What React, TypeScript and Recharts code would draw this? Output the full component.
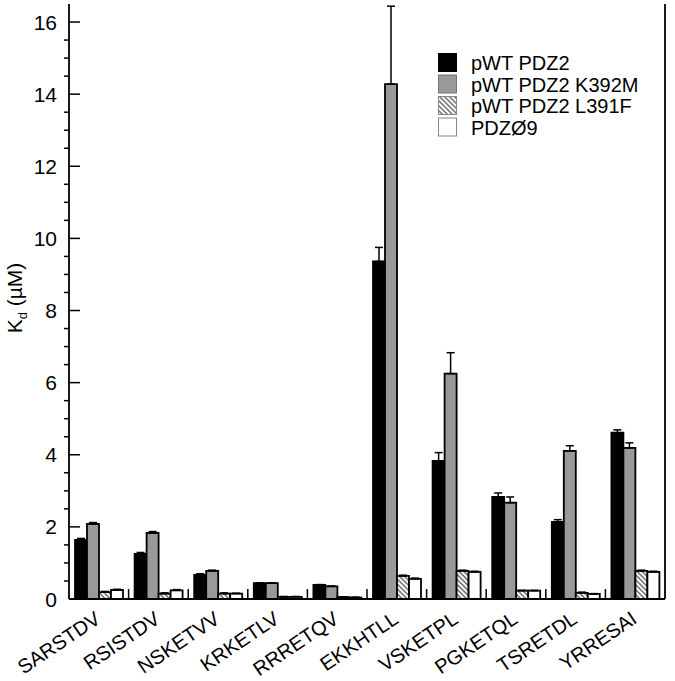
import { BarChart, Bar, XAxis, YAxis, ErrorBar } from "recharts";

const peptides = ["SARSTDV", "RSISTDV", "NSKETVV", "KRKETLV", "RRRETQV", "EKKHTLL", "VSKETPL", "PGKETQL", "TSRETDL", "YRRESAI"];

// Kd (uM) per peptide, upper error only
const wtPdz2 = [1.64, 1.25, 0.67, 0.44, 0.39, 9.36, 3.83, 2.83, 2.14, 4.61];
const wtPdz2Err = [0.04, 0.04, 0.03, 0.01, 0.01, 0.39, 0.23, 0.11, 0.06, 0.08];
const k392m = [2.08, 1.83, 0.78, 0.44, 0.35, 14.28, 6.25, 2.67, 4.11, 4.19];
const k392mErr = [0.04, 0.04, 0.02, 0.01, 0.01, 2.16, 0.58, 0.16, 0.14, 0.14];
const l391f = [0.19, 0.15, 0.15, 0.06, 0.05, 0.64, 0.78, 0.23, 0.17, 0.78];
const l391fErr = [0.02, 0.02, 0.02, 0.01, 0.01, 0.02, 0.02, 0.01, 0.02, 0.02];
const pdz09 = [0.25, 0.24, 0.15, 0.06, 0.04, 0.56, 0.75, 0.23, 0.14, 0.75];
const pdz09Err = [0.02, 0.02, 0.01, 0.01, 0.01, 0.02, 0.02, 0.01, 0.01, 0.02];

const seriesNames = ["pWT PDZ2", "pWT PDZ2 K392M", "pWT PDZ2 L391F", "PDZØ9"];
const seriesFills = ["#000", "#999", "url(#hatch)", "#fff"];
const legendBorders = ["#000", "#777", "#888", "#888"];

const majorTicks = [0, 2, 4, 6, 8, 10, 12, 14, 16];
const yTicks = majorTicks.flatMap((t) => (t < 16 ? [t, t + 0.5, t + 1, t + 1.5] : [t]));

const data = peptides.map((p, i) => ({
  peptide: p,
  wt: wtPdz2[i],
  wtErr: [0, wtPdz2Err[i]],
  km: k392m[i],
  kmErr: [0, k392mErr[i]],
  lf: l391f[i],
  lfErr: [0, l391fErr[i]],
  pz: pdz09[i],
  pzErr: [0, pdz09Err[i]],
}));

const W = 675;
const H = 681;
const LEFT = 69;
const RIGHT = 10;
const band = (W - LEFT - RIGHT) / peptides.length;
const font = "'Liberation Sans', Arial, sans-serif";

function LeftTick({ x, y, payload }: any) {
  const v = payload.value;
  if (v % 2 !== 0) return <line x1={x - 5} x2={x} y1={y} y2={y} stroke="#000" strokeWidth={1.5} />;
  return (
    <g>
      <line x1={x} x2={x + 11} y1={y} y2={y} stroke="#000" strokeWidth={1.5} />
      <text x={x - 12} y={y} dy="0.36em" textAnchor="end" fontSize={21} fontFamily={font} fill="#000">
        {v}
      </text>
    </g>
  );
}

function RightTick({ x, y, payload }: any) {
  const v = payload.value;
  if (v % 2 !== 0) return <line x1={x} x2={x + 6} y1={y} y2={y} stroke="#000" strokeWidth={1.5} />;
  return <line x1={x - 11} x2={x} y1={y} y2={y} stroke="#000" strokeWidth={1.5} />;
}

function BottomTick({ x, y, payload, index }: any) {
  const tx = x + 3;
  const ty = y + 23;
  return (
    <g>
      {index < peptides.length - 1 && (
        <line x1={x + band / 2} x2={x + band / 2} y1={y} y2={y - 10} stroke="#000" strokeWidth={1.5} />
      )}
      <text
        x={tx}
        y={ty}
        textAnchor="end"
        fontSize={20}
        fontFamily={font}
        fill="#000"
        transform={`rotate(-34, ${tx}, ${ty})`}
      >
        {payload.value}
      </text>
    </g>
  );
}

function TopTick({ x, y, index }: any) {
  if (index >= peptides.length - 1) return <g />;
  return <line x1={x + band / 2} x2={x + band / 2} y1={y} y2={y + 11} stroke="#000" strokeWidth={1.5} />;
}

function YLabel() {
  return (
    <text x={22} y={298} textAnchor="middle" fontSize={21} fontFamily={font} fill="#000" transform="rotate(-90, 22, 298)">
      K
      <tspan fontSize={13} dy={5}>d</tspan>
      <tspan dy={-5}> (µM)</tspan>
    </text>
  );
}

const barProps = { stroke: "#000", strokeWidth: 1.8, isAnimationActive: false, xAxisId: "bottom", yAxisId: "left" };
const errProps = { width: 4, stroke: "#000", strokeWidth: 1.5 };
const axisLine = { stroke: "#000", strokeWidth: 1.8 };

export default function App() {
  return (
    <div style={{ position: "absolute", left: 0, top: 0, width: W, height: H, background: "#fff" }}>
      <BarChart
        width={W}
        height={H}
        data={data}
        margin={{ top: 4, right: 0, bottom: 0, left: 0 }}
        barSize={12}
        barGap={0}
      >
        <XAxis
          xAxisId="bottom"
          dataKey="peptide"
          height={H - 599}
          interval={0}
          tickSize={0}
          tickMargin={0}
          tickLine={false}
          tick={<BottomTick />}
          axisLine={axisLine}
        />
        <XAxis
          xAxisId="top"
          dataKey="peptide"
          orientation="top"
          height={0}
          interval={0}
          tickSize={0}
          tickMargin={0}
          tickLine={false}
          tick={<TopTick />}
          axisLine={axisLine}
        />
        <YAxis
          yAxisId="left"
          width={LEFT}
          domain={[0, 16.5]}
          ticks={yTicks}
          interval={0}
          tickSize={0}
          tickMargin={0}
          tickLine={false}
          tick={<LeftTick />}
          axisLine={axisLine}
          label={<YLabel />}
        />
        <YAxis
          yAxisId="right"
          orientation="right"
          width={RIGHT}
          domain={[0, 16.5]}
          ticks={yTicks}
          interval={0}
          tickSize={0}
          tickMargin={0}
          tickLine={false}
          tick={<RightTick />}
          axisLine={axisLine}
        />
        <Bar dataKey="wt" name={seriesNames[0]} fill={seriesFills[0]} {...barProps}>
          <ErrorBar dataKey="wtErr" {...errProps} />
        </Bar>
        <Bar dataKey="km" name={seriesNames[1]} fill={seriesFills[1]} {...barProps}>
          <ErrorBar dataKey="kmErr" {...errProps} />
        </Bar>
        <Bar dataKey="lf" name={seriesNames[2]} fill={seriesFills[2]} {...barProps}>
          <ErrorBar dataKey="lfErr" {...errProps} />
        </Bar>
        <Bar dataKey="pz" name={seriesNames[3]} fill={seriesFills[3]} {...barProps}>
          <ErrorBar dataKey="pzErr" {...errProps} />
        </Bar>
      </BarChart>
      <svg width={W} height={H} style={{ position: "absolute", left: 0, top: 0, pointerEvents: "none" }}>
        <defs>
          <pattern id="hatch" width={3.5} height={3.5} patternUnits="userSpaceOnUse" patternTransform="rotate(-45)">
            <rect width={3.5} height={3.5} fill="#fff" />
            <line x1={1} y1={0} x2={1} y2={3.5} stroke="#555" strokeWidth={1.3} />
          </pattern>
        </defs>
        {seriesNames.map((name, i) => (
          <g key={name}>
            <rect x={438.5} y={53.5 + i * 21.5} width={18} height={18} fill={seriesFills[i]} stroke={legendBorders[i]} strokeWidth={1} />
            <text x={471} y={70 + i * 21.5} fontSize={20} fontFamily={font} fill="#000">
              {name}
            </text>
          </g>
        ))}
      </svg>
    </div>
  );
}
